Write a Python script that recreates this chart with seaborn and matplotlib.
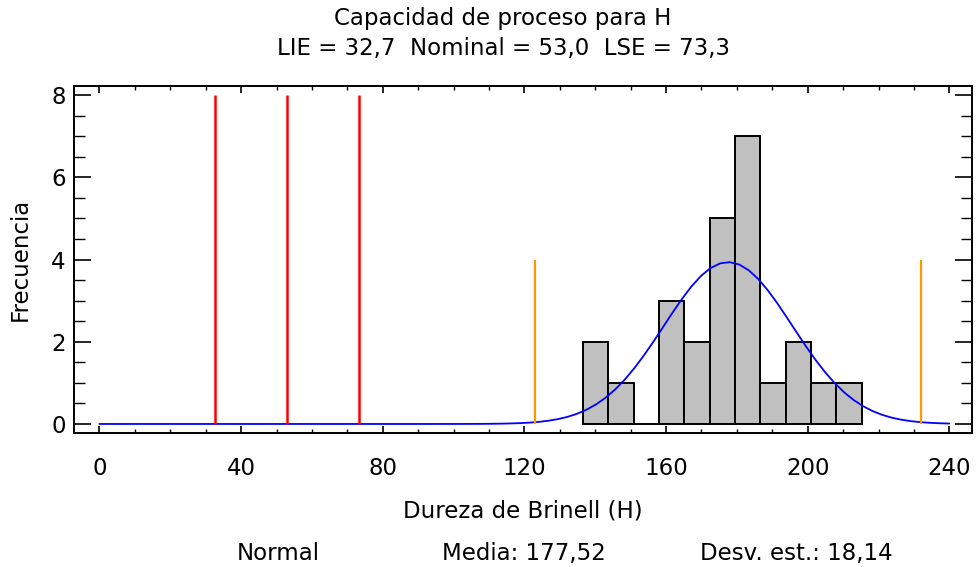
import numpy as np
import pandas as pd
import matplotlib
matplotlib.use("Agg")
import matplotlib.pyplot as plt
from matplotlib.ticker import MultipleLocator
import seaborn as sns

# Histogram classes for H (Brinell hardness)
class_lower = 136.5
class_width = 7.16
counts = [2, 1, 0, 3, 2, 5, 7, 1, 2, 1, 1]

# Fitted normal distribution
mean_h = 177.52
std_h = 18.14

# Specification limits
lie, nominal, lse = 32.7, 53.0, 73.3

x_ticks = [0, 40, 80, 120, 160, 200, 240]
y_ticks = [0, 2, 4, 6, 8]


def dec(v, nd):
    """Format a number with a decimal comma."""
    return f"{v:.{nd}f}".replace(".", ",")


sns.set_theme(style="white")
plt.rcParams["font.family"] = ["DejaVu Sans"]
plt.rcParams.update({"text.color": "black", "axes.labelcolor": "black",
                     "xtick.color": "black", "ytick.color": "black"})
FS = 16.5

edges = [float(class_lower + class_width * k) for k in range(len(counts) + 1)]
centers = [(a + b) / 2 for a, b in zip(edges[:-1], edges[1:])]
hist_df = pd.DataFrame({"H": centers, "n": counts})

n_obs = sum(counts)
xs = np.linspace(0, 240, 90)
pdf = np.exp(-0.5 * ((xs - mean_h) / std_h) ** 2) / (std_h * np.sqrt(2 * np.pi))
curve_df = pd.DataFrame({"H": xs, "f": n_obs * class_width * pdf})

fig = plt.figure(figsize=(9.77, 5.67), dpi=100)
ax = fig.add_axes([0.0757, 0.2363, 0.9192, 0.612])

sns.histplot(data=hist_df, x="H", weights="n", bins=edges, ax=ax,
             color="#c0c0c0", alpha=1, edgecolor="black", linewidth=1.4)
sns.lineplot(data=curve_df, x="H", y="f", ax=ax, color="#0000ff", linewidth=1.3)

ax.vlines([lie, nominal, lse], 0, max(y_ticks), color="#ff0000", linewidth=1.8, zorder=3)
ax.vlines([mean_h - 3 * std_h, mean_h + 3 * std_h], 0, 4, color="#ff9900", linewidth=1.6, zorder=3)

ax.set_xlim(-7.2, 246.4)
ax.set_ylim(-0.22, 8.22)
ax.set_xticks(x_ticks)
ax.set_yticks(y_ticks)
ax.xaxis.set_minor_locator(MultipleLocator(10))
ax.yaxis.set_minor_locator(MultipleLocator(0.5))
ax.tick_params(axis="x", which="major", direction="in", length=5, width=1.2,
               top=True, bottom=True, labelsize=FS, pad=17, color="black")
ax.tick_params(axis="x", which="minor", direction="in", length=3, width=1.0,
               top=True, bottom=True, color="black")
ax.tick_params(axis="y", which="major", direction="in", length=12.5, width=1.2,
               left=True, right=True, labelsize=FS, pad=6, color="black")
ax.tick_params(axis="y", which="minor", direction="in", length=8, width=1.0,
               left=True, right=True, color="black")
for s in ax.spines.values():
    s.set_visible(True)
    s.set_color("black")
    s.set_linewidth(1.4)

ax.set_xlabel("Dureza de Brinell (H)", fontsize=FS, labelpad=14)
ax.set_ylabel("Frecuencia", fontsize=FS, labelpad=14)

fig.text(0.515, 0.968, "Capacidad de proceso para H", ha="center", va="center", fontsize=FS)
fig.text(0.515, 0.915, f"LIE = {dec(lie, 1)}  Nominal = {dec(nominal, 1)}  LSE = {dec(lse, 1)}",
         ha="center", va="center", fontsize=FS)

fig.text(0.285, 0.024, "Normal", ha="center", va="center", fontsize=FS)
fig.text(0.536, 0.024, f"Media: {dec(mean_h, 2)}", ha="center", va="center", fontsize=FS)
fig.text(0.815, 0.024, f"Desv. est.: {dec(std_h, 2)}", ha="center", va="center", fontsize=FS)

fig.savefig("out.png", dpi=100)
